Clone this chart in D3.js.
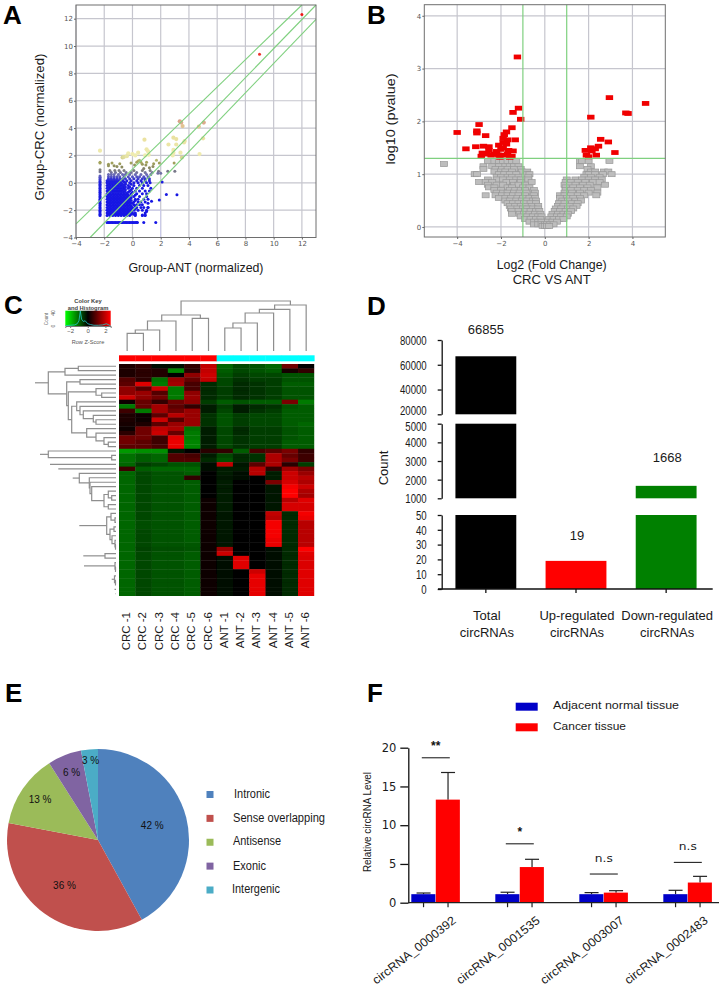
<!DOCTYPE html>
<html><head><meta charset="utf-8">
<script src="https://cdn.jsdelivr.net/npm/d3@7/dist/d3.min.js"></script>
<style>
html,body{margin:0;padding:0;background:#fff}
svg{display:block}
text{font-family:"Liberation Sans",Arial,sans-serif;fill:#1a1a1a}
</style></head><body>
<script>
// ---------- Panel A data ----------
const aRed=[[12,12.3],[9,9.4]];
const aUpper=[[3.35,4.5],[3.45,4.4],[3.55,4.15],[4.7,4.1],[5.05,4.4],[5,3.25],[.85,3.15],[2.9,3.3],[3.1,3.2],[3.7,3.05],[3.65,2.95],[2.55,2.8],[3.1,2.8],[2.9,2.4],[2.9,2.2],[2.85,2],[3.4,2.2],[3.5,1.85],[4.75,2.1],[-2.3,2.35],[-.3,2.15],[0,2.1],[.4,2.2],[.2,2],[-.7,1.85],[-.6,1.9],[-.4,1.95],[1,2.45],[1.1,2.3],[1.15,2.05],[.9,2],[.5,1.65],[.4,1.6],[1.7,1.65],[2.95,1.45],
[-2.3,1.45],[-2.3,1.5],[-1.7,1.25],[-1.7,1.35],[-1.45,1.45],[-1.3,1.25],[-1.1,1.2],[-.9,1.4],[-.75,1.15],[-.1,1.45],[.15,1.3],[.3,1.5],[.6,1.5],[.7,1.35],[.95,1.3],[1,1.5],[1.5,1.4],[1.45,1.2],[1.9,1.45],[1.2,1.1],[.8,1.05],
[-2.3,.95],[-2.3,.8],[1.85,.85],[2,.7],[2.5,.85],[3,.85],[1.8,.7],
[2.1,.05],[2.4,-.85],[3.15,-.88],[1.9,-1.25],[1.35,-1.35],[1.1,-1.5],[1.1,-1.8],[1,-2.1],[.9,-2.35],[.7,-2.35],[.2,-2.3],[.8,-2.9],[1.65,-2.9]];
const aBlueRows=[
[.9,[-1.6,-1.25,-.95,-.6,.1,.7,1.25]],
[.75,[-1.5,-1.2,-.85,-.45,-.1,.3,.9,1.4]],
[.6,[-1.7,-1.5,-1.3,-1,-.7,-.5,-.2,.2,.6,1,1.3]],
[.45,[-1.7,-1.5,-1.3,-1.1,-.9,-.6,-.3,0,.3,.5,.8,1.1]],
[.3,[-1.7,-1.5,-1.3,-1.1,-.9,-.7,-.5,-.2,.1,.4,.7,.9,1.2]],
[.15,[-1.8,-1.6,-1.4,-1.2,-1,-.7,-.4,-.1,.3,.6,.9,1.2]],
[0,[-1.8,-1.6,-1.4,-1.2,-1,-.8,-.5,-.2,.1,.4,.7,1,1.25]],
[-.2,[-1.8,-1.6,-1.4,-1.2,-1,-.8,-.6,-.3,.1,.5,.8,1.1]],
[-.4,[-1.8,-1.6,-1.4,-1.2,-1,-.8,-.6,-.3,0,.3,.7,1.3]],
[-.6,[-1.8,-1.6,-1.4,-1.2,-1,-.8,-.6,-.2,.2,.5,.9,1.2]],
[-.8,[-1.8,-1.6,-1.4,-1.2,-1,-.8,-.6,-.4,-.1,.3,.7,1]],
[-1,[-1.8,-1.6,-1.4,-1.2,-1,-.8,-.6,-.4,-.2,.1,.5,1]],
[-1.2,[-1.8,-1.6,-1.4,-1.2,-1,-.8,-.6,-.4,-.2,.2,.4,.8,1.1]],
[-1.4,[-1.8,-1.6,-1.4,-1.2,-1,-.8,-.6,-.4,-.2,.1,.4,.6,.9]],
[-1.6,[-1.8,-1.6,-1.4,-1.2,-1,-.8,-.6,-.4,-.2,.1,.3,.5,.7]],
[-1.8,[-1.8,-1.6,-1.4,-1.2,-1,-.8,-.6,-.4,-.2,0,.3,.6,.8,1.1]],
[-2,[-1.8,-1.6,-1.4,-1.2,-1,-.8,-.6,-.4,-.2,.1,.4,.7,1]],
[-2.2,[-1.8,-1.6,-1.4,-1.2,-1,-.8,-.6,-.4,-.2,0,.2,.9]],
[-2.4,[-1.8,-1.6,-1.4,-1.2,-1,-.8,-.6,-.4,-.2,.2,.7,.9]],
[-2.9,[-1.8,-1.7,-1.6,-1.5,-1.4,-1.3,-1.2,-1.1,-1,-.9,-.8,-.7,-.6,-.5,-.4,-.3,-.2,-.1,0,.1,.2,.3,.35]]];
const aBlueFill=[
[.22,[-1.7,-1.5,-1.3,-1.1]],
[.07,[-1.7,-1.5,-1.3,-1.1,-.9,-.6]],
[-.1,[-1.7,-1.5,-1.3,-1.1,-.9,-.7,-.5,-.1]],
[-.3,[-1.7,-1.5,-1.3,-1.1,-.9,-.7,-.5,-.2]],
[-.5,[-1.7,-1.5,-1.3,-1.1,-.9,-.7,-.5,-.1]],
[-.7,[-1.7,-1.5,-1.3,-1.1,-.9,-.7,-.5,-.3,0]],
[-.9,[-1.7,-1.5,-1.3,-1.1,-.9,-.7,-.5,-.3,-.1,.2]],
[-1.1,[-1.7,-1.5,-1.3,-1.1,-.9,-.7,-.5,-.3,-.1]],
[-1.3,[-1.7,-1.5,-1.3,-1.1,-.9,-.7,-.5,-.3,-.1,.2]],
[-1.5,[-1.7,-1.5,-1.3,-1.1,-.9,-.7,-.5,-.3,-.1,0]],
[-1.7,[-1.7,-1.5,-1.3,-1.1,-.9,-.7,-.5,-.3,-.1,.2]],
[-1.9,[-1.7,-1.5,-1.3,-1.1,-.9,-.7,-.5,-.3,-.1,.2]],
[-2.1,[-1.7,-1.5,-1.3,-1.1,-.9,-.7,-.5,-.3,-.1]],
[-2.3,[-1.7,-1.5,-1.3,-1.1,-.9,-.7,-.5,-.3,-.1,.1]]];
const aColumnX=-2.3;
const aColumnY=[-2.4,-2.3,-2.2,-2.1,-2,-1.9,-1.8,-1.7,-1.6,-1.5,-1.4,-1.3,-1.2,-1.1,-1,-.9,-.8,-.7,-.6,-.5,-.4,-.3,-.2,-.1,0,.1,.2,.3,.4,.5];
const aGuides=[[-4,-3,12,13],[-3,-4,13,13],[-1.85,-4,13,11.95]];
const aTicks=[-4,-2,0,2,4,6,8,10,12];
// ---------- Panel B data ----------
const bRed=[[-1.25,3.22],[-1.2,2.25],[-1.45,2.17],[-1.1,2.04],[-3,1.94],[-4,1.79],[-3.1,1.82],[-3.1,1.78],[-2.7,1.73],[-1.5,1.88],[-1.75,1.8],[-1.85,1.75],[-1.9,1.68],[-1.7,1.65],[-1.35,1.65],[-1.9,1.6],[-1.75,1.57],[-2.1,1.55],[-1.9,1.5],[-2,1.47],[-1.65,1.45],[-1.45,1.44],[-3.6,1.48],[-3.15,1.52],[-2.8,1.53],[-2.55,1.52],[-2.55,1.45],[-2.85,1.4],[-2.65,1.38],[-2.2,1.43],[-2.3,1.38],[-2.45,1.36],[-2.9,1.34],[-2.1,1.36],[-1.9,1.36],[-1.7,1.38],[-1.5,1.34],[-1.6,1.32],[-2.05,1.32],
[2.95,2.45],[4.6,2.34],[3.7,2.16],[3.8,2.15],[2.1,2.08],[2.55,1.66],[2.9,1.61],[2.45,1.53],[2.3,1.48],[2.1,1.5],[1.85,1.45],[2.15,1.44],[3.2,1.41],[1.9,1.36],[2.35,1.36],[2,1.33]];
const bGreyRows=[
[1.25,[-2.6,-2.3,-2.1,-1.9,-1.7,-1.5,-1.3,1.6,1.7,2,2.95]],
[1.19,[-4.6]],
[1.15,[-2.8,-2.4,-2.1,-1.8,-1.6,-1.4,-1.2,1.6,2.1]],
[1.1,[-2.8,-2.25,-1.95,-1.7,-1.4,-1.1,1.95]],
[1.05,[-2.3,-2,-1.8,-1.5,-1.05,-.8,2.1,2.3,2.7,2.9]],
[1,[-3.2,-3.1,-2.1,-1.85,-1.6,-1.3,-.8,-.7,1.9,2,2.3,2.65,3.05]],
[.95,[-2.2,-2,-1.7,-1.5,-1.2,-.75,1.8,2.1,2.5]],
[.9,[-2.6,-2.2,-1.9,-1.6,-1.3,-1.1,-.75,1,1.4,1.7,2,2.3,2.6]],
[.85,[-3,-2.7,-2.4,-1.75,-1.45,-1.1,-.6,.95,1.2,1.5,1.85,2.2,2.5]],
[.8,[-2.6,-2.2,-1.9,-1.4,-1.2,-.9,.9,1.15,1.4,1.75,2.05,2.75]],
[.75,[-2.55,-2.3,-1.7,-1.5,-1,-.7,.95,1.3,1.6,1.95,2.4]],
[.7,[-2.3,-2,-1.6,-1.35,-1.1,-.9,-.5,.95,1.2,1.5,1.8,2.1]],
[.65,[-2.2,-1.9,-1.7,-1.4,-1.15,-.85,-.45,.9,1.25,1.6,2,2.4]],
[.6,[-2.7,-2.25,-1.95,-1.7,-1.45,-1.2,-.9,-.5,.7,.9,1.2,1.5,1.8,2.35]],
[.55,[-2.1,-1.8,-1.55,-1.25,-1,-.7,-.45,.7,1,1.3,1.6]],
[.5,[-1.8,-1.6,-1.3,-1.05,-.8,-.55,-.4,.8,1.05,1.4,1.65]],
[.45,[-1.7,-1.45,-1.2,-.95,-.65,-.4,.65,.9,1.25,1.5]],
[.4,[-1.6,-1.35,-1.1,-.85,-.6,-.3,.6,.85,1.15,1.45]],
[.35,[-1.55,-1.25,-1,-.8,-.55,-.3,.5,.75,1.05,1.3]],
[.3,[-1.5,-1.2,-.9,-.65,-.4,-.25,.45,.7,.95,1.2]],
[.25,[-1.5,-1.15,-.95,-.7,-.45,-.2,.35,.6,.85,1.05]],
[.2,[-1.1,-.8,-.55,-.3,-.15,.3,.55,.75,1]],
[.15,[-.9,-.65,-.4,-.2,.2,.4,.65,.85]],
[.1,[-.7,-.5,-.3,-.15,.15,.35,.55]],
[.05,[-.5,-.3,-.15,0,.1,.25,.4]],
[.02,[-.1,0,.1,.2]]];
const bXTicks=[-4,-2,0,2,4];
const bYTicks=[0,1,2,3,4];
const bVLines=[-1,1];
const bHLine=1.3;
// ---------- Panel C data ----------
const heatCols=["CRC -1","CRC -2","CRC -3","CRC -4","CRC -5","CRC -6","ANT -1","ANT -2","ANT -3","ANT -4","ANT -5","ANT -6"];
const heatRows=[
[.25,.45,-.1,-.15,.5,1.9,-1,-.7,-.8,-1,1.1,0],
[.3,.4,.35,-1.3,.4,1.9,-.9,-.7,-.8,-.9,.2,.5],
[.3,.4,.35,0,1.4,2,-.8,-.6,-.7,-.7,-.8,-.8],
[.8,.4,-1.1,1.5,1,1.9,-.7,-.5,-.6,-.6,-.8,-.8],
[.9,2.2,-1.2,1.6,.7,-.4,-.7,-.4,-.5,-.6,-.9,-.9],
[1.4,.8,2,-1.2,.7,-.4,-.6,-.4,-.5,-.6,-.8,-.8],
[1.4,1.5,.8,-1.2,1.4,-.4,-.6,-.4,-.5,-.6,-.8,-.8],
[2,1.4,1.1,-1.2,1.5,-.4,-.6,-.4,-.5,-.6,-.8,-.8],
[.1,1,.5,1.1,1.4,-.6,-.9,-.8,-.9,-.9,1.2,-1.2],
[-1.2,1,1.6,.9,.5,-.3,-.6,-.3,-.4,-.5,-.8,-.9],
[.6,-1.2,1.6,1.1,1.5,-.3,-.7,-.3,-.5,-.6,-.9,-.9],
[.3,.1,.9,1.8,1.5,-.5,-.8,-.6,-.7,-.7,-.9,-.9],
[.3,.1,2,.8,1.5,-.5,-.8,-.6,-.7,-.7,-.9,-.9],
[.2,.3,.9,1.5,1.5,-.5,-.8,-.6,-.7,-.7,-.9,-1],
[.1,1.1,1.9,1.7,-1.1,-.3,-.7,-.4,-.6,-.6,-.8,-.9],
[.4,1.1,2,1,-1.2,-.3,-.7,-.4,-.6,-.6,-.8,-.9],
[1.1,1.1,.6,2.2,-1.2,-.3,-.7,-.5,-.6,-.6,-.8,-.9],
[1.1,.9,.6,2.3,-1.3,-.3,-.7,-.5,-.6,-.6,-.9,-.9],
[.9,.9,.7,2.3,-1.3,-.3,-.7,-.5,-.6,-.6,-.9,-.9],
[-1.5,-1.4,-1.4,-.2,0,.4,.5,-.9,.7,.9,1.2,.5],
[-1.1,-.9,-1,.8,.7,-.3,-.7,-.4,-.5,1.7,1,.6],
[-1.1,-.9,-1,.8,.8,-.4,-.8,-.4,-.5,1.7,1.2,.6],
[-1,-.6,-.7,-.8,-.8,-.1,1.9,-.2,.9,1.7,.4,-.6],
[.6,-.9,-1,-1,-1,-.1,-.3,-.3,1.8,.5,1.6,1.2],
[-1,-.7,-.8,-.8,-.9,-.05,-.3,-.15,1.8,-.3,2,1.5],
[-1,-.7,-.8,-.8,.5,-.05,-.2,-.1,-.05,-.3,2,1.8],
[-1,-.7,-.8,-.8,-.9,-.05,-.25,-.05,-.05,1.2,2.1,1.7],
[-1,-.7,-.8,-.8,-.9,0,-.25,-.02,-.05,-.2,2.4,2],
[-1,-.7,-.8,-.8,-.9,0,-.25,-.02,-.05,-.2,2.5,1.7],
[-1,-.7,-.8,-.8,-.9,0,-.25,-.02,-.05,-.2,2.5,1.6],
[-1,-.7,-.8,-.8,-.9,.1,-.25,.02,.02,-.2,1.8,2.2],
[-1,-.7,-.8,-.8,-.9,.1,-.25,.02,.02,-.2,2.1,2.1],
[-1,-.7,-.8,-.8,-.9,.1,-.25,.02,.02,-.2,2.1,2.1],
[-1,-.7,-.8,-.8,-.9,.1,-.2,0,-.02,1.9,-.4,2.4],
[-1,-.7,-.8,-.8,-.9,.1,-.2,0,-.02,1.8,-.4,2.3],
[-1,-.75,-.8,-.8,-.9,.1,-.2,0,-.02,2.4,-.4,1.8],
[-1,-.75,-.8,-.8,-.9,.1,-.2,0,-.02,2.4,-.4,1.8],
[-1,-.7,-.8,-.8,-.9,.1,-.2,0,-.02,2.4,-.4,1.8],
[-1,-.7,-.8,-.8,-.9,.1,-.2,0,-.02,2.4,-.4,1.8],
[-1,-.7,-.8,-.8,-.9,.1,-.2,0,-.02,2.3,-.4,1.8],
[-1,-.7,-.8,-.8,-.85,.1,-.2,0,-.02,2.3,-.4,1.8],
[-1,-.65,-.75,-.75,-.8,.1,1.5,0,-.02,-.1,-.4,2.5],
[-1,-.7,-.8,-.8,-.9,.1,2,0,-.02,-.1,-.4,2.2],
[-1,-.7,-.8,-.8,-.9,.1,-.1,2.2,0,-.1,-.4,2.15],
[-1,-.7,-.8,-.8,-.9,.1,-.1,2.2,0,-.1,-.4,2.15],
[-1,-.7,-.8,-.8,-.9,.1,-.1,2.2,0,-.1,-.4,2.15],
[-1,-.7,-.8,-.8,-.9,.1,-.1,.03,2,-.1,-.4,2.2],
[-1,-.7,-.8,-.8,-.9,.12,-.1,.03,2.25,-.1,-.4,2.2],
[-1,-.7,-.8,-.8,-.9,.12,-.1,.03,2.25,-.1,-.4,2.2],
[-1,-.7,-.8,-.8,-.9,.12,-.1,.03,2.25,-.1,-.4,2.2],
[-1,-.7,-.8,-.8,-.9,.12,-.1,.03,2.25,-.1,-.4,2.2],
[-1,-.7,-.8,-.8,-.9,.12,-.1,.03,2.25,-.1,-.4,2.2]];
const colGroups=["#ff0000","#ff0000","#ff0000","#ff0000","#ff0000","#ff0000","#00ffff","#00ffff","#00ffff","#00ffff","#00ffff","#00ffff"];
const colTree=[50,[36,[30,[21,[17.7,0,0],0],0],[32.7,0,0]],[46,[41.7,[38,[28,[23,0,0],0],0],0],0]];
const rowTop=[67.7,[51,[37.7,0,0],0],[49.3,[36,0,0],[47.7,[20,0,[14.3,0,0]],[44.3,[39.3,0,[36,0,[32.7,0,[22.7,0,[20,0,0]]]]],[29.3,0,[20,0,[12,0,[7.7,0,0]]]]]]]];
const rowA=[36.7,0,[26.7,0,[26,0,[24.3,0,[12,[7.7,0,[4.3,0,0]],[7.7,0,0]]]]]];
const rowB=[36.7,[9.3,[5,0,[1,0,0]],[6,[2,0,0],[4,0,[1,0,[.5,0,0]]]]],[32.7,[11,0,0],[32,[1,0,[.5,0,0]],[4.3,[1.5,0,[.5,0,0]],[1.5,0,[.5,0,0]]]]]];
const rowBottom=[76,[67.7,0,[4.3,0,0]],[66,0,[57.7,0,[43.3,rowA,rowB]]]];
const rowTree=[81,rowTop,rowBottom];
const keyTicks=[-2,0,2];
const keyHistZ=[-2.5,-2,-1.5,-1.2,-1,-.85,-.7,-.5,-.3,0,.3,.7,1.2,1.7,2.1,2.4,2.6];
const keyHistN=[1,2,3,6,14,40,18,12,14,6,4,2,2,3,6,3,0];
// ---------- Panel D data ----------
const dCats=["Total|circRNAs","Up-regulated|circRNAs","Down-regulated|circRNAs"];
const dVals=[66855,19,1668];
const dColors=["#000000","#ff0000","#008000"];
const dSeg1=[0,50], dSeg2=[1000,5000], dSeg3=[20000,80000];
const dTicks1=[0,10,20,30,40,50], dTicks2=[1000,2000,3000,4000,5000], dTicks3=[20000,40000,60000,80000];
// ---------- Panel E data ----------
const pieNames=["Intronic","Sense overlapping","Antisense","Exonic","Intergenic"];
const pieVals=[42,36,13,6,3];
const pieColors=["#4F81BD","#C0504D","#9BBB59","#8064A2","#4BACC6"];
const pieLabelR=[56,57,70,72,79];
// ---------- Panel F data ----------
const fCats=["circRNA_0000392","circRNA_0001535","circRNA_0003007","circRNA_0002483"];
const fNormal=[1.1,1.1,1.1,1.1];
const fNormalTop=[1.25,1.35,1.3,1.6];
const fCancer=[13.3,4.6,1.3,2.6];
const fCancerTop=[16.8,5.6,1.55,3.4];
const fSig=["**","*","n.s","n.s"];
const fSigY=[18.7,7.6,3.7,5.2];
const fTicks=[0,5,10,15,20];

// ---------- Set-up ----------
const svg=d3.select("body").append("svg").attr("width",719).attr("height",987);
const defs=svg.append("defs");
[["soft",.45],["softer",.65]].forEach(([id,s])=>defs.append("filter").attr("id",id)
  .attr("x","-5%").attr("y","-5%").attr("width","110%").attr("height","110%")
  .append("feGaussianBlur").attr("stdDeviation",s));
const lin=defs.append("linearGradient").attr("id","keyGrad");
[["0%","#00ff00"],["50%","#000000"],["100%","#ff0000"]].forEach(([o,c])=>lin.append("stop").attr("offset",o).attr("stop-color",c));

function txt(g,x,y,s,o={}){
  const t=g.append("text").attr("x",x).attr("y",y).text(s)
   .attr("font-size",o.size||12).attr("text-anchor",o.anchor||"middle").attr("dominant-baseline",o.base||"middle");
  if(o.weight)t.attr("font-weight",o.weight);
  if(o.len)t.attr("textLength",o.len).attr("lengthAdjust","spacingAndGlyphs");
  if(o.fill)t.style("fill",o.fill);
  if(o.font)t.style("font-family",o.font);
  if(o.rot!==undefined)t.attr("transform",`rotate(${o.rot},${x},${y})`);
  return t;
}
[["A",3,23.6],["B",367,23.6],["C",4,314],["D",367,315],["E",5,702],["F",367,702]].forEach(([s,x,y])=>
  txt(svg,x,y,s,{size:26,weight:"bold",anchor:"start",base:"auto",fill:"#000"}));

function gridPanel(x,y,xT,yT,L,R,T,B){
  const g=svg.append("g");
  const grid=g.append("g").attr("filter","url(#soft)");
  xT.forEach(t=>grid.append("line").attr("x1",x(t)).attr("x2",x(t)).attr("y1",T).attr("y2",B).attr("stroke","#c6c6ce").attr("stroke-width",1.2));
  yT.forEach(t=>grid.append("line").attr("y1",y(t)).attr("y2",y(t)).attr("x1",L).attr("x2",R).attr("stroke","#c6c6ce").attr("stroke-width",1.2));
  return g;
}
function frameAndAxes(g,x,y,xT,yT,L,R,T,B){
  g.append("rect").attr("x",L).attr("y",T).attr("width",R-L).attr("height",B-T).attr("fill","none").attr("stroke","#6e6e6e").attr("stroke-width",1);
  const f=d3.format("d");
  const ax=g.append("g").attr("transform",`translate(0,${B})`).call(d3.axisBottom(x).tickValues(xT).tickSize(2).tickPadding(2).tickFormat(f));
  const ay=g.append("g").attr("transform",`translate(${L},0)`).call(d3.axisLeft(y).tickValues(yT).tickSize(2).tickPadding(1).tickFormat(f));
  [ax,ay].forEach(a=>{a.select(".domain").remove();a.selectAll("line").attr("stroke","#666");
    a.selectAll("text").attr("font-size",7).style("font-family","'DejaVu Sans'").style("fill","#555");});
}

// ---------- Panel A ----------
{
 const L=76,R=316,T=5,B=237.5;
 const x=d3.scaleLinear().domain([-4,13]).range([L,R]);
 const y=d3.scaleLinear().domain([-4,13]).range([B,T]);
 const g=gridPanel(x,y,aTicks,aTicks,L,R,T,B);
 g.append("line").attr("x1",x(2)).attr("x2",x(2)).attr("y1",y(-2)).attr("y2",B).attr("stroke","#c9c9f2").attr("stroke-width",.8);
 g.append("line").attr("x1",x(-2)).attr("x2",x(2)).attr("y1",y(-2)).attr("y2",y(-2)).attr("stroke","#c9c9f2").attr("stroke-width",.8);
 const col=d3.scaleLinear().domain([-3,.1,.6,1.1,1.55,2,3.9,4.5,9,12.3])
   .range(["#1414e6","#1c1ce0","#6a6ab4","#86865f","#a8a85a","#efecb0","#e8dc98","#d9a08a","#ee3a30","#f01818"]);
 const pts=[];
 aBlueRows.forEach(([v,xs])=>xs.forEach(u=>pts.push([u,v])));
 aBlueFill.forEach(([v,xs])=>xs.forEach(u=>pts.push([u,v])));
 aColumnY.forEach(v=>pts.push([aColumnX,v]));
 aUpper.forEach(p=>pts.push(p));
 aRed.forEach(p=>pts.push(p));
 const mk=g.append("g").attr("filter","url(#soft)");
 mk.selectAll("circle").data(pts).join("circle")
   .attr("cx",d=>x(d[0])).attr("cy",d=>y(d[1]))
   .attr("r",d=>d[1]>1.7&&d[1]<8?2.1:1.5).attr("fill",d=>col(d[1]));
 const gl=g.append("g").attr("filter","url(#soft)");
 gl.selectAll("line").data(aGuides).join("line")
   .attr("x1",d=>x(d[0])).attr("y1",d=>y(d[1])).attr("x2",d=>x(d[2])).attr("y2",d=>y(d[3]))
   .attr("stroke","#7fd07f").attr("stroke-width",1.1);
 frameAndAxes(g,x,y,aTicks,aTicks,L,R,T,B);
 txt(svg,196,269,"Group-ANT (normalized)",{size:13,len:135});
 txt(svg,40,127,"Group-CRC (normalized)",{size:13.5,len:147,rot:-90});
}
// ---------- Panel B ----------
{
 const L=424.3,R=665.3,T=4.7,B=237;
 const x=d3.scaleLinear().domain([-5.5,5.5]).range([L,R]);
 const y=d3.scaleLinear().domain([-.19,4.21]).range([B,T]);
 const g=gridPanel(x,y,bXTicks,bYTicks,L,R,T,B);
 const grey=[];
 bGreyRows.forEach(([v,xs])=>xs.forEach(u=>grey.push([u,v])));
 const mk=g.append("g").attr("filter","url(#soft)");
 mk.selectAll("rect.g").data(grey).join("rect").attr("class","g")
   .attr("x",d=>x(d[0])-3.5).attr("y",d=>y(d[1])-2.5).attr("width",7).attr("height",5)
   .attr("fill","#bdbdbd").attr("stroke","#989898").attr("stroke-width",.7);
 mk.selectAll("rect.r").data(bRed).join("rect").attr("class","r")
   .attr("x",d=>x(d[0])-3.7).attr("y",d=>y(d[1])-2.4).attr("width",7.4).attr("height",4.8)
   .attr("fill","#f00000");
 const gl=g.append("g").attr("filter","url(#soft)");
 bVLines.forEach(v=>gl.append("line").attr("x1",x(v)).attr("x2",x(v)).attr("y1",T).attr("y2",B).attr("stroke","#7fd07f").attr("stroke-width",1.2));
 gl.append("line").attr("x1",L).attr("x2",R).attr("y1",y(bHLine)).attr("y2",y(bHLine)).attr("stroke","#7fd07f").attr("stroke-width",1.1);
 frameAndAxes(g,x,y,bXTicks,bYTicks,L,R,T,B);
 txt(svg,391,119,"log10 (pvalue)",{size:13.5,len:91,rot:-90});
 txt(svg,551.7,265.7,"Log2 (Fold Change)",{size:13,len:110});
 txt(svg,551.7,281,"CRC VS ANT",{size:13});
}
// ---------- Panel C ----------
{
 const L=119,R=314.3,T=364,B=596;
 const x=d3.scaleBand().domain(d3.range(heatCols.length)).range([L,R]);
 const y=d3.scaleBand().domain(d3.range(heatRows.length)).range([T,B]);
 const col=d3.scaleLinear().domain([-2.5,0,2.5]).range(["#00ff00","#000000","#ff0000"]);
 const clipId="heatClip";
 defs.append("clipPath").attr("id",clipId).append("rect").attr("x",L).attr("y",T).attr("width",R-L).attr("height",B-T);
 const clip=svg.append("g").attr("clip-path",`url(#${clipId})`);
 const hm=clip.append("g").attr("filter","url(#softer)");
 const cells=[];
 heatRows.forEach((r,i)=>r.forEach((v,j)=>cells.push({i,j,v})));
 hm.selectAll("rect").data(cells).join("rect")
   .attr("x",d=>x(d.j)).attr("y",d=>y(d.i)).attr("width",x.bandwidth()+.4).attr("height",y.bandwidth()+.4)
   .attr("fill",d=>col(d.v));
 svg.append("g").selectAll("rect").data(colGroups).join("rect")
   .attr("x",(d,i)=>x(i)).attr("y",355.3).attr("width",x.bandwidth()+.3).attr("height",6).attr("fill",d=>d);
 // dendrograms
 const hy=d3.scaleLinear().domain([0,50]).range([351,301]);
 const hx=d3.scaleLinear().domain([0,81]).range([116,35]);
 const den=svg.append("g").attr("filter","url(#soft)").attr("fill","none").attr("stroke","#8e8e8e").attr("stroke-width",1.2);
 let n=0;
 function walkCol(t){
   if(!t){const p=x(n)+x.bandwidth()/2;n++;return [p,0];}
   const a=walkCol(t[1]),b=walkCol(t[2]);
   den.append("path").attr("d",`M${a[0]},${hy(a[1])}V${hy(t[0])}H${b[0]}V${hy(b[1])}`);
   return [(a[0]+b[0])/2,t[0]];
 }
 walkCol(colTree);
 n=0;
 function walkRow(t){
   if(!t){const p=y(n)+y.bandwidth()/2;n++;return [p,0];}
   const a=walkRow(t[1]),b=walkRow(t[2]);
   den.append("path").attr("d",`M${hx(a[1])},${a[0]}H${hx(t[0])}V${b[0]}H${hx(b[1])}`);
   return [(a[0]+b[0])/2,t[0]];
 }
 walkRow(rowTree);
 heatCols.forEach((c,i)=>txt(svg,x(i)+x.bandwidth()/2,612,c,{size:11.5,anchor:"end",rot:-90}));
 // colour key
 const kx=d3.scaleLinear().domain([-2.55,2.6]).range([65.3,110.7]);
 const ky=d3.scaleLinear().domain([0,40]).range([326,311]);
 svg.append("rect").attr("x",65.3).attr("y",310.7).attr("width",45.4).attr("height",15.3).attr("fill","url(#keyGrad)");
 svg.append("path").attr("fill","none").attr("stroke","#22c8c8").attr("stroke-width",.8)
   .attr("d",d3.line().x(d=>kx(d[0])).y(d=>ky(d[1]))(keyHistZ.map((z,i)=>[z,keyHistN[i]])));
 const kA=svg.append("g").attr("transform","translate(0,326)").call(d3.axisBottom(kx).tickValues(keyTicks).tickSize(2).tickPadding(1).tickFormat(d3.format("d")));
 kA.select(".domain").attr("stroke","#777");kA.selectAll("line").attr("stroke","#777");
 kA.selectAll("text").attr("font-size",6).style("fill","#555");
 txt(svg,88,301.5,"Color Key",{size:5.8,weight:"bold",fill:"#444"});
 txt(svg,88,308.5,"and Histogram",{size:5.8,weight:"bold",fill:"#444"});
 txt(svg,88,343,"Row Z-Score",{size:5.6,fill:"#555"});
 txt(svg,47,319,"Count",{size:4.6,rot:-90,fill:"#666"});
 txt(svg,54,326,"0",{size:5,rot:-90,fill:"#555"});
 txt(svg,54,313,"40",{size:5,rot:-90,fill:"#555"});
}
// ---------- Panel D ----------
{
 const x=d3.scaleBand().domain(dCats).range([441,711]).paddingInner(.325).paddingOuter(.16);
 const segs=[
  {dom:dSeg1,rng:[589,515],ticks:dTicks1},
  {dom:dSeg2,rng:[498.3,423.7],ticks:dTicks2},
  {dom:dSeg3,rng:[414.3,340],ticks:dTicks3}];
 const g=svg.append("g");
 segs.forEach((s)=>{
   const y=d3.scaleLinear().domain(s.dom).range(s.rng);
   const bars=dCats.map((c,i)=>({c,i,v:dVals[i]})).filter(d=>d.v>s.dom[0]);
   g.selectAll(null).data(bars).join("rect")
    .attr("x",d=>x(d.c)).attr("width",x.bandwidth())
    .attr("y",d=>y(Math.min(d.v,s.dom[1]))).attr("height",d=>y(s.dom[0])-y(Math.min(d.v,s.dom[1])))
    .attr("fill",d=>dColors[d.i]);
   const a=g.append("g").attr("transform","translate(441.7,0)")
     .call(d3.axisLeft(y).tickValues(s.ticks).tickSize(4).tickSizeOuter(0).tickPadding(11).tickFormat(d3.format("d")));
   a.select(".domain").attr("stroke","#111").attr("stroke-width",1.3);
   a.selectAll("line").attr("stroke","#111").attr("stroke-width",1.3);
   a.selectAll("text").attr("font-size",12.5).style("fill","#1a1a1a")
    .attr("textLength",d=>String(d).length*5.35).attr("lengthAdjust","spacingAndGlyphs")
    .attr("dy",d=>d===20000?"0":d===5000?"0.55em":"0.35em");
 });
 const ax=g.append("g").attr("transform","translate(0,589)")
   .call(d3.axisBottom(x).tickSize(4).tickSizeOuter(0).tickFormat(""));
 ax.select(".domain").attr("stroke","#111").attr("stroke-width",1.3).attr("d","M438,0H712.7");
 ax.selectAll("line").attr("stroke","#111").attr("stroke-width",1.3);
 dCats.forEach((c,i)=>{
   const [a,b]=c.split("|"),cx=x(c)+x.bandwidth()/2;
   txt(g,cx+1,617,a,{size:13});
   txt(g,cx+1,634,b,{size:13});
 });
 const lab=[331,536.7,459];
 dVals.forEach((v,i)=>txt(g,x(dCats[i])+x.bandwidth()/2+(i?1:0),lab[i],v,{size:13}));
 txt(g,385,468,"Count",{size:13,rot:-90});
}
// ---------- Panel E ----------
{
 const g=svg.append("g").attr("transform","translate(98,840)");
 const pie=d3.pie().sort(null).value(d=>d)(pieVals);
 const arc=d3.arc().innerRadius(0).outerRadius(91);
 g.selectAll("path").data(pie).join("path").attr("d",arc).attr("fill",(d,i)=>pieColors[i]);
 pie.forEach((d,i)=>{
   const c=d3.arc().innerRadius(pieLabelR[i]).outerRadius(pieLabelR[i]).centroid(d);
   txt(g,c[0],c[1],pieVals[i]+" %",{size:10,fill:"#111"});
 });
 const ly=d3.scalePoint().domain(pieNames).range([794.5,890]);
 const lg=svg.append("g");
 const legW=[36,92,48,33,48];
 pieNames.forEach((n,i)=>{
   lg.append("rect").attr("x",206.5).attr("y",ly(n)-3.5).attr("width",7).attr("height",7).attr("fill",pieColors[i]);
   txt(lg,i==0?234:i==4?232:233,ly(n)+(i==3?1:0),n,{size:12,anchor:"start",len:legW[i]});
 });
}
// ---------- Panel F ----------
{
 const x=d3.scaleBand().domain(fCats).range([411.3,712.3]).paddingInner(.417);
 const x2=d3.scaleBand().domain(["n","c"]).range([0,x.bandwidth()]);
 const y=d3.scaleLinear().domain([0,20]).range([902.7,747.7]);
 const g=svg.append("g");
 const rows=fCats.map((c,i)=>[
   {c,k:"n",v:fNormal[i],t:fNormalTop[i],f:"#0000c8"},
   {c,k:"c",v:fCancer[i],t:fCancerTop[i],f:"#ff0000"}]).flat();
 g.selectAll("line.e").data(rows).join("line").attr("class","e")
  .attr("x1",d=>x(d.c)+x2(d.k)+x2.bandwidth()/2).attr("x2",d=>x(d.c)+x2(d.k)+x2.bandwidth()/2)
  .attr("y1",d=>y(d.v)).attr("y2",d=>y(d.t)).attr("stroke","#222").attr("stroke-width",1.2);
 g.selectAll("line.c").data(rows).join("line").attr("class","c")
  .attr("x1",d=>x(d.c)+x2(d.k)+x2.bandwidth()/2-7).attr("x2",d=>x(d.c)+x2(d.k)+x2.bandwidth()/2+7)
  .attr("y1",d=>y(d.t)).attr("y2",d=>y(d.t)).attr("stroke","#222").attr("stroke-width",1.2);
 g.selectAll("rect").data(rows).join("rect")
  .attr("x",d=>x(d.c)+x2(d.k)).attr("width",x2.bandwidth()-.4)
  .attr("y",d=>y(d.v)).attr("height",d=>y(0)-y(d.v)).attr("fill",d=>d.f);
 const ay=g.append("g").attr("transform","translate(408.3,0)")
   .call(d3.axisLeft(y).tickValues(fTicks).tickSize(8).tickSizeOuter(0).tickPadding(4));
 ay.select(".domain").attr("stroke","#111").attr("stroke-width",1.3);
 ay.selectAll("line").attr("stroke","#111").attr("stroke-width",1.3);
 ay.selectAll("text").attr("font-size",11.5).style("font-family","'DejaVu Sans'").style("fill","#1a1a1a");
 g.append("line").attr("x1",408).attr("x2",719).attr("y1",y(0)).attr("y2",y(0)).attr("stroke","#222").attr("stroke-width",1.3);
 g.selectAll("line.t").data(rows).join("line").attr("class","t")
  .attr("x1",d=>x(d.c)+x2(d.k)+x2.bandwidth()/2).attr("x2",d=>x(d.c)+x2(d.k)+x2.bandwidth()/2)
  .attr("y1",y(0)).attr("y2",y(0)+4.5).attr("stroke","#222").attr("stroke-width",1.2);
 fCats.forEach((c,i)=>{
   const cx=x(c)+x.bandwidth()/2;
   g.append("line").attr("x1",cx-14).attr("x2",cx+14).attr("y1",y(fSigY[i])).attr("y2",y(fSigY[i])).attr("stroke","#222").attr("stroke-width",1.1);
   const star=fSig[i].includes("*");
   txt(g,cx,y(fSigY[i])+(star?-11:-15),fSig[i],star?{size:12,weight:"bold",fill:"#111"}:{size:10,font:"'DejaVu Sans'",len:18});
   txt(g,cx+19,919.5,c,{size:12,anchor:"end",len:102,rot:-38});
 });
 txt(g,368,822,"Relative circRNA Level",{size:10,len:100,rot:-90});
 [["#0000c8",702.7,"Adjacent normal tissue",126,706],["#ff0000",723.3,"Cancer tissue",73,727]].forEach(([c,ry,s,l,ty])=>{
   g.append("rect").attr("x",515.7).attr("y",ry).attr("width",22).attr("height",8).attr("fill",c);
   txt(g,553,ty,s,{size:11,anchor:"start",len:l});
 });
}
</script>
</body></html>
